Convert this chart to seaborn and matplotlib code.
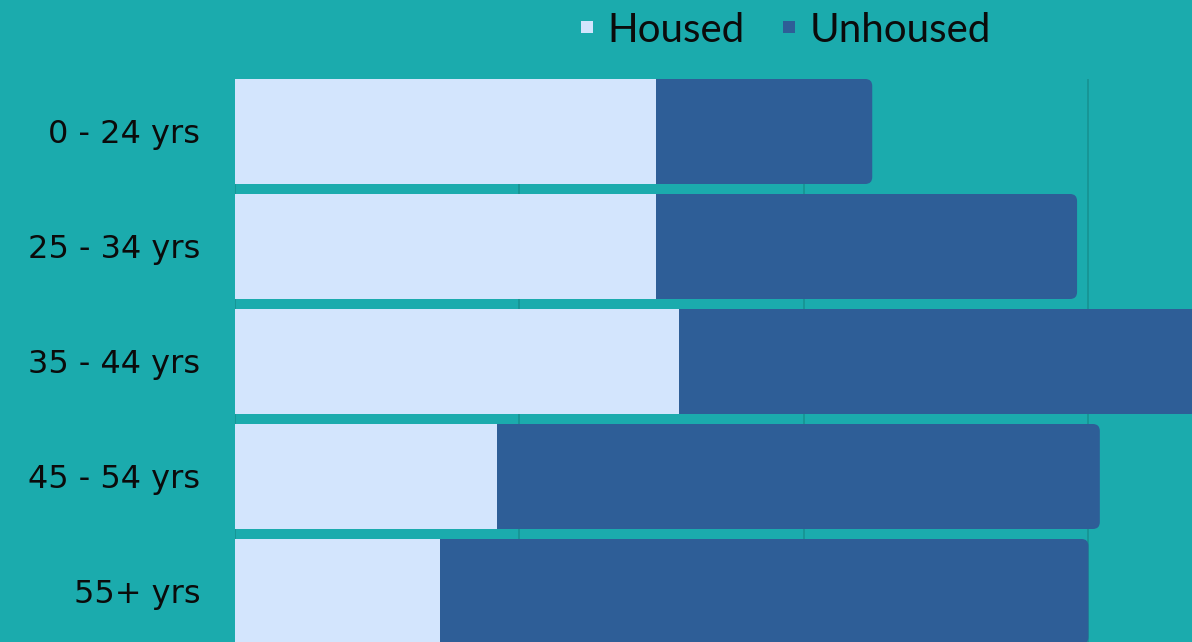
import matplotlib
matplotlib.use("Agg")
import matplotlib.pyplot as plt
from matplotlib.patches import FancyBboxPatch
from matplotlib.lines import Line2D
import seaborn as sns
import pandas as pd

categories = ["0 - 24 yrs", "25 - 34 yrs", "35 - 44 yrs", "45 - 54 yrs", "55+ yrs"]
housed = [14.8, 14.8, 15.6, 9.2, 7.2]
unhoused = [7.6, 14.8, 19.5, 21.2, 22.8]
series_names = ["Housed", "Unhoused"]
grid_ticks = [0, 10, 20, 30]

BG = "#1babad"
C_HOUSED = "#d3e5fd"
C_UNHOUSED = "#2e5e97"
GRID = "#16908f"
TXT = "#0b0b0b"

sns.set_theme(style="white")
plt.rcParams["font.family"] = ["Lato", "DejaVu Sans"]

df = pd.DataFrame({"cat": categories, "housed": housed,
                   "total": [h + u for h, u in zip(housed, unhoused)]})

W, H = 1192, 642
fig = plt.figure(figsize=(W / 100, H / 100), dpi=100, facecolor=BG)
ax = fig.add_axes([235 / W, -7 / H, 1 - 235 / W, 570 / H])
ax.set_facecolor(BG)

sns.barplot(data=df, x="total", y="cat", orient="h", color=C_UNHOUSED,
            width=0.913, saturation=1, ax=ax, zorder=2, errorbar=None, linewidth=0)
n_total = len(ax.patches)
sns.barplot(data=df, x="housed", y="cat", orient="h", color=C_HOUSED,
            width=0.913, saturation=1, ax=ax, zorder=3, errorbar=None, linewidth=0)

ax.set_xlim(0, 33.64)
ax.set_ylim(4.5, -0.4565)

# rounded right ends for the total (unhoused) bars
p0 = ax.transData.transform((0, 0))
p1 = ax.transData.transform((1, 1))
sx, sy = abs(p1[0] - p0[0]), abs(p1[1] - p0[1])
r_px = 7
for p in list(ax.patches[:n_total]):
    x, y, w, h = p.get_x(), p.get_y(), p.get_width(), p.get_height()
    p.remove()
    fb = FancyBboxPatch((x, y), w, h,
                        boxstyle=f"round,pad=0,rounding_size={r_px / sx}",
                        mutation_aspect=sx / sy,
                        facecolor=C_UNHOUSED, edgecolor="none", zorder=2)
    ax.add_patch(fb)

for t in grid_ticks:
    ax.axvline(t, color=GRID, lw=1.1, zorder=1)

ax.set_xticks([])
ax.set_xlabel("")
ax.set_ylabel("")
ax.tick_params(axis="y", length=0, pad=25, labelcolor=TXT)
for lab in ax.get_yticklabels():
    lab.set_fontsize(23)
    lab.set_fontfamily(["DejaVu Sans"])
for s in ax.spines.values():
    s.set_visible(False)

handles = [Line2D([], [], marker="s", linestyle="none", markersize=8.5,
                  markerfacecolor=c, markeredgewidth=0)
           for c in (C_HOUSED, C_UNHOUSED)]
fig.legend(handles, series_names, loc="center", bbox_to_anchor=(786 / W, 1 - 30 / H),
           ncol=2, frameon=False, fontsize=29, labelcolor=TXT,
           handlelength=0.3, handletextpad=0.35, columnspacing=0.95)

fig.savefig("out.png", dpi=100, facecolor=BG)
